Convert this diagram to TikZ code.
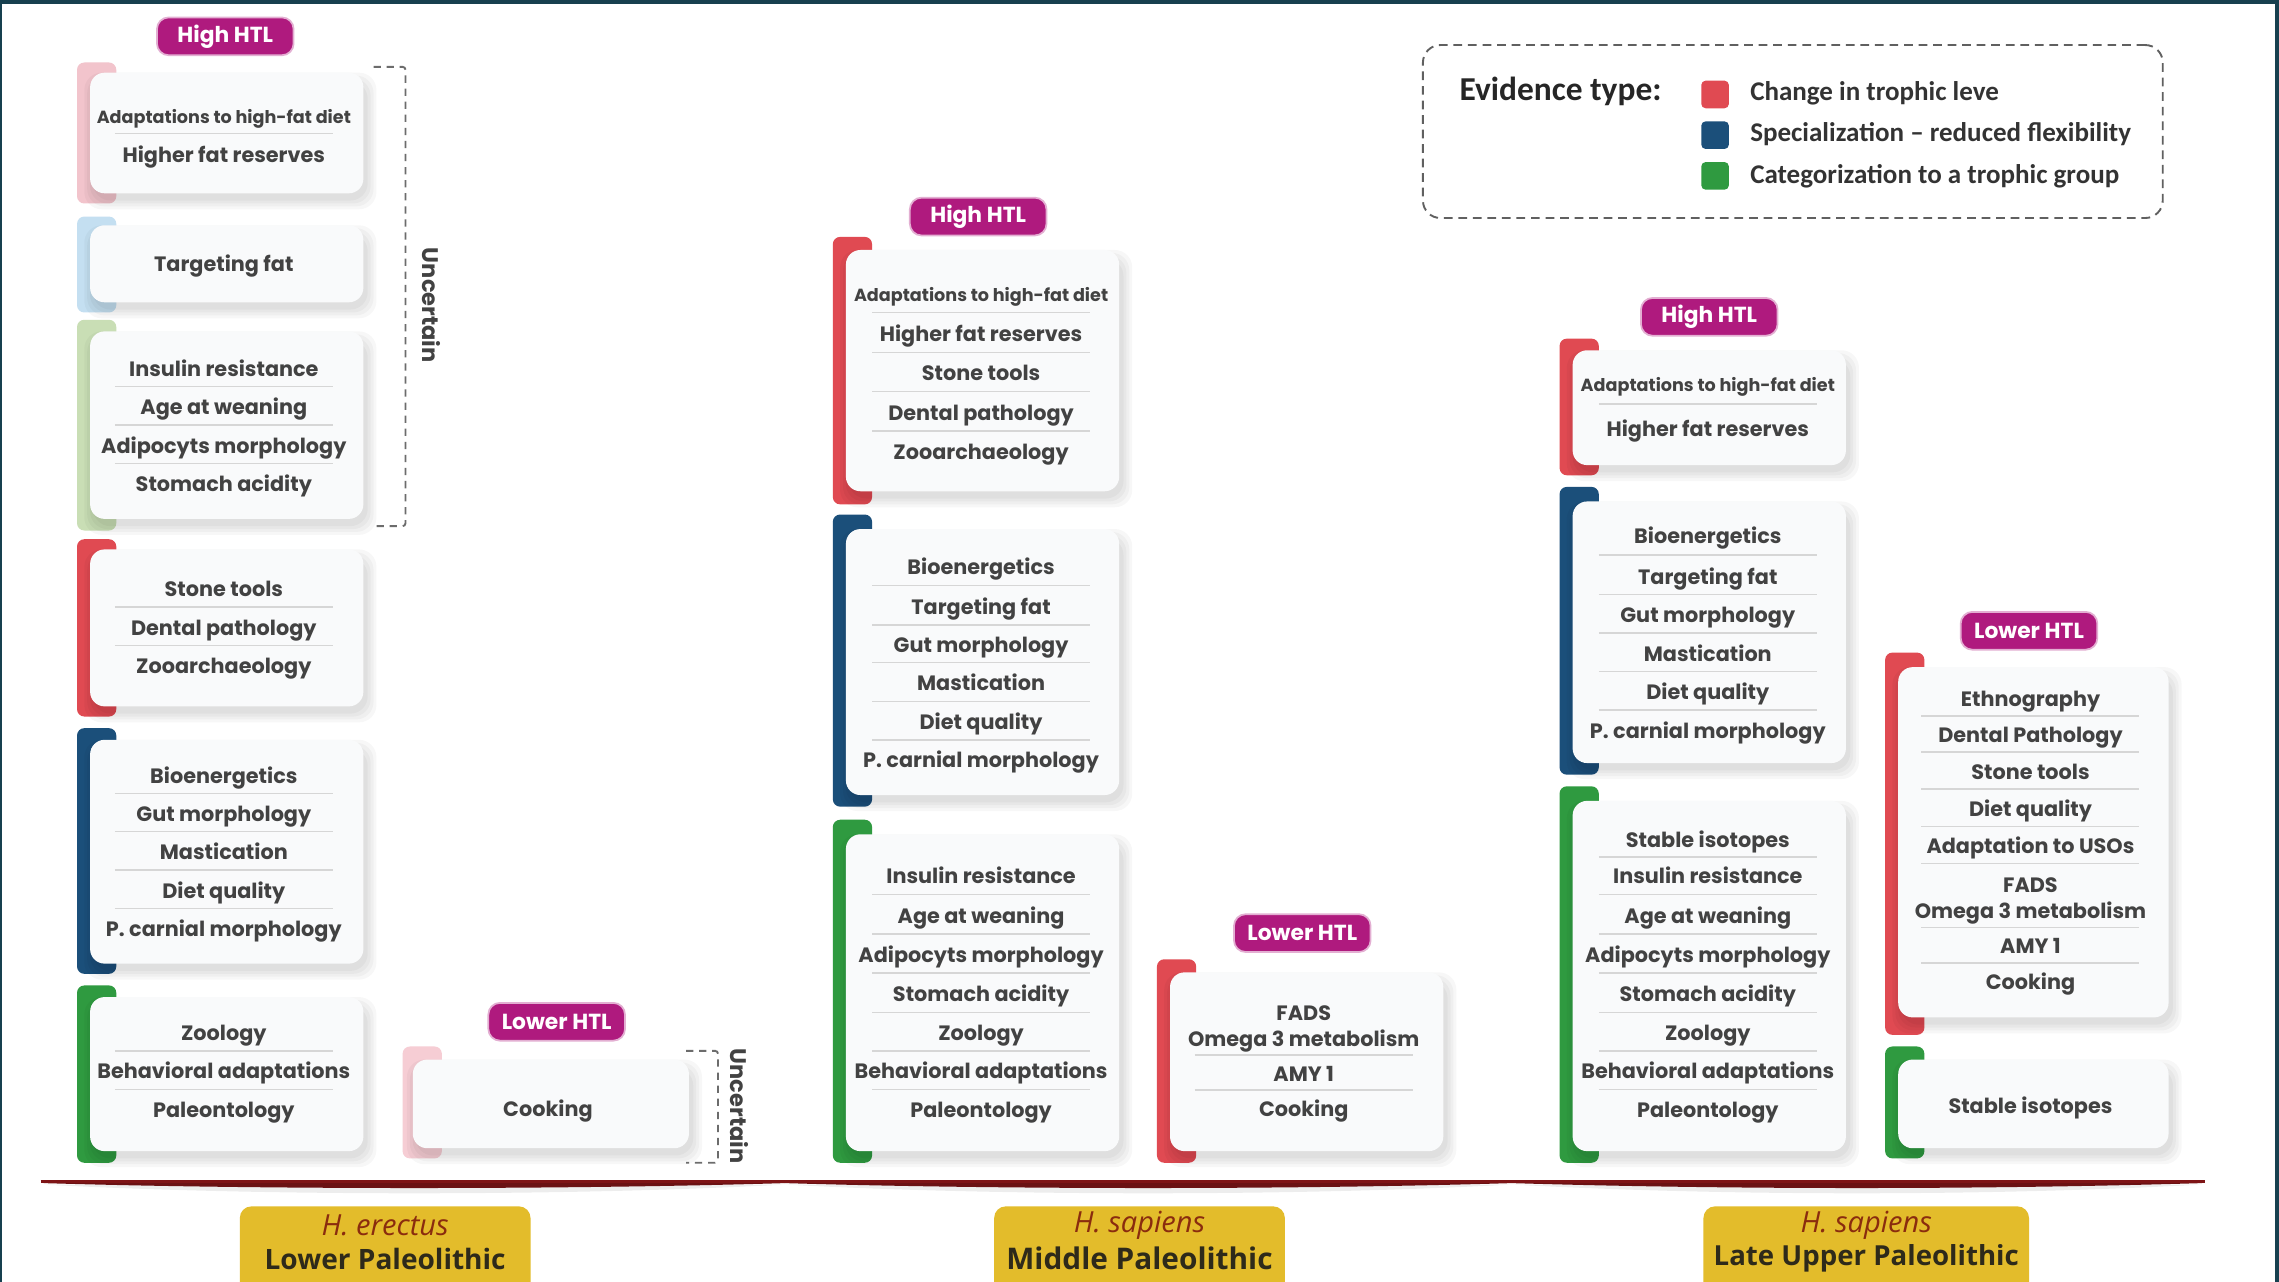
\documentclass[tikz,border=0pt]{standalone}
\usepackage{fontspec}
\setmainfont{Poppins}
\newfontfamily\legfont{Carlito}
\newfontfamily\labfont{Open Sans}
\usetikzlibrary{calc}
\definecolor{frame}{HTML}{17404F}
\definecolor{cred}{HTML}{E04A52}
\definecolor{cblue}{HTML}{1B4F7A}
\definecolor{cgreen}{HTML}{2F9A40}
\definecolor{lred}{HTML}{F2C4CC}
\definecolor{lredb}{HTML}{F6CDD4}
\definecolor{lblue}{HTML}{C4DFF1}
\definecolor{lgreen}{HTML}{C9DEB5}
\definecolor{badge}{HTML}{AF1A7E}
\definecolor{txt}{HTML}{424242}
\definecolor{sepc}{HTML}{D6D6D6}
\definecolor{gold}{HTML}{E3BC2B}
\definecolor{lineRed}{HTML}{7E1416}
\definecolor{boxbg}{HTML}{F9FAFB}
\definecolor{sapc}{HTML}{8A2C0E}
\definecolor{perc}{HTML}{2E2A1A}
\newcommand\itemfont{\fontsize{14.3}{16}\selectfont\bfseries}
\newcommand\smallitemfont{\fontsize{12.1}{14}\selectfont\bfseries}
\newcommand\EvBox[9]{%
  \fill[#2, rounded corners=5pt] (#3,#4) rectangle (#3+27,#5);
  \foreach \e in {0,2,4,6}{\fill[black,opacity=0.03,rounded corners=12pt] (#6+2-\e,#8+6-\e) rectangle (#7+3+\e,#9+5+\e);}
  \node[wbox, minimum width={(#7-#6)*1pt}, minimum height={(#9-#8)*1pt}] (#1) at ({(#6+#7)/2},{(#8+#9)/2}) {};
}
\newcommand\Items[3]{\foreach \t/\y [count=\i] in {#3} {\node[item] (#1-\i) at (#2,\y) {\t};}}
\newcommand\Seps[2]{\foreach \y in {#2} {\draw[sepline] (#1-75,\y) -- (#1+75,\y);}}
\tikzset{
  wbox/.style={fill=boxbg, rounded corners=10pt, inner sep=0pt, outer sep=0pt},
  item/.style={font=\itemfont, text=txt, inner sep=0pt, text height=0.72em, text depth=0.2em, anchor=center, yshift=-3.5pt},
  itemsm/.style={item, font=\smallitemfont},
  sepline/.style={draw=sepc, line width=1pt},
  badgest/.style={fill=badge, draw=badge!35, line width=1.2pt, rounded corners=8pt, minimum width=94pt, minimum height=26pt, inner sep=0pt, text=white, font=\fontsize{15}{15}\selectfont\bfseries},
  dashline/.style={draw=gray!85!black, line width=1.3pt, dash pattern=on 5pt off 4pt, rounded corners=2pt},
  unc/.style={rotate=-90, font=\fontsize{15.5}{15.5}\selectfont\bfseries, text=txt, inner sep=0pt},
  goldbox/.style={fill=gold, rounded corners=8pt, inner sep=0pt},
  sapst/.style={font=\labfont\itshape\fontsize{20}{20}\selectfont, text=sapc, inner sep=0pt},
  perst/.style={font=\labfont\bfseries\fontsize{20.5}{20.5}\selectfont, text=perc, inner sep=0pt},
  legsq/.style={rounded corners=3pt, minimum size=19pt, inner sep=0pt},
  legtxt/.style={anchor=west, font=\legfont\bfseries\fontsize{18.6}{18.6}\selectfont, text=black!80, inner sep=0pt}
}
\begin{document}
\begin{tikzpicture}[x=1pt,y=-1pt]
\useasboundingbox (0,0) rectangle (1568,882);
\clip (0,0) rectangle (1568,882);
\fill[frame] (0,0) rectangle (1568,882);
\fill[white] (1.5,2.5) rectangle (1565.5,884);

% ---------------- Legend
\node[draw=gray!75!black, dash pattern=on 6pt off 4pt, line width=1.3pt, rounded corners=12pt, minimum width=509pt, minimum height=119pt, inner sep=0pt] (leg) at (1233.5,90.5) {};
\node[anchor=west, font=\legfont\bfseries\fontsize{23}{23}\selectfont, text=black!85, inner sep=0pt] (legt) at (1004,63) {Evidence type:};
\node[legsq, fill=cred] (sq1) at (1180,65) {};
\node[legsq, fill=cblue] (sq2) at (1180,93) {};
\node[legsq, fill=cgreen] (sq3) at (1180,121) {};
\node[legtxt] (lt1) at (1204,64) {Change in trophic leve};
\node[legtxt] (lt2) at (1204,92) {Specialization – reduced flexibility};
\node[legtxt] (lt3) at (1204,121) {Categorization to a trophic group};

% ---------------- Column 1 : H. erectus
\node[badgest] (hb1) at (155,25) {High HTL};
\EvBox{c1a}{lred}{53}{43}{140}{62}{250}{50}{133}
\node[itemsm] (c1a-1) at (154,79) {Adaptations to high-fat diet};
\node[item] (c1a-2) at (154,106) {Higher fat reserves};
\Seps{154}{92}
\EvBox{c1b}{lblue}{53}{149}{215}{62}{250}{155}{208}
\Items{c1b}{154}{Targeting fat/181}
\EvBox{c1c}{lgreen}{53}{220}{365}{62}{250}{228}{357}
\Items{c1c}{154}{Insulin resistance/253,Age at weaning/279,Adipocyts morphology/306,Stomach acidity/332}
\Seps{154}{266,292.5,319}
\draw[dashline] (257,46) -- (279,46) -- (279,362) -- (257,362);
\node[unc] (u1) at (297,210) {Uncertain};
\EvBox{c1d}{cred}{53}{371}{493}{62}{250}{378}{486}
\Items{c1d}{154}{Stone tools/404,Dental pathology/431,Zooarchaeology/457}
\Seps{154}{417.5,444}
\EvBox{c1e}{cblue}{53}{501}{670}{62}{250}{509}{663}
\Items{c1e}{154}{Bioenergetics/533,Gut morphology/559,Mastication/585,Diet quality/612,P. carnial morphology/638}
\Seps{154}{546,572,598.5,625}
\EvBox{c1f}{cgreen}{53}{678}{800}{62}{250}{686}{792}
\Items{c1f}{154}{Zoology/710,Behavioral adaptations/736,Paleontology/763}
\Seps{154}{723,749.5}
\node[badgest] (lb1) at (383,703) {Lower HTL};
\EvBox{c1g}{lredb}{277}{720}{797}{284}{474}{729}{790}
\Items{c1g}{377}{Cooking/762}
\draw[dashline] (472,723) -- (494,723) -- (494,800) -- (472,800);
\node[unc] (u2) at (509,761) {Uncertain};

% ---------------- Column 2 : Middle Paleolithic
\node[badgest] (hb2) at (673,149) {High HTL};
\EvBox{c2a}{cred}{573}{163}{347}{582}{770}{172}{338}
\node[itemsm] (c2a-0) at (675,201) {Adaptations to high-fat diet};
\Items{c2a}{675}{Higher fat reserves/229,Stone tools/256,Dental pathology/283,Zooarchaeology/310}
\Seps{675}{215,242.5,269.5,296.5}
\EvBox{c2b}{cblue}{573}{354}{555}{582}{770}{364}{547}
\Items{c2b}{675}{Bioenergetics/389,Targeting fat/417,Gut morphology/443,Mastication/469,Diet quality/496,P. carnial morphology/522}
\Seps{675}{403,430,456,482.5,509}
\EvBox{c2c}{cgreen}{573}{564}{800}{582}{770}{574}{792}
\Items{c2c}{675}{Insulin resistance/602,Age at weaning/629,Adipocyts morphology/656,Stomach acidity/683,Zoology/710,Behavioral adaptations/736,Paleontology/763}
\Seps{675}{615.5,642.5,669.5,696.5,723,749.5}
\node[badgest] (lb2) at (896,642) {Lower HTL};
\EvBox{c2d}{cred}{796}{660}{800}{805}{993}{669}{792}
\Items{c2d}{897}{FADS/696,Omega 3 metabolism/714,AMY 1/738,Cooking/762}
\Seps{897}{726,750}

% ---------------- Column 3 : Late Upper Paleolithic
\node[badgest] (hb3) at (1176,218) {High HTL};
\EvBox{c3a}{cred}{1073}{233}{327}{1082}{1270}{241}{320}
\node[itemsm] (c3a-0) at (1175,263) {Adaptations to high-fat diet};
\Items{c3a}{1175}{Higher fat reserves/294}
\Seps{1175}{278}
\EvBox{c3b}{cblue}{1073}{335}{533}{1082}{1270}{345}{525}
\Items{c3b}{1175}{Bioenergetics/368,Targeting fat/396,Gut morphology/422,Mastication/449,Diet quality/475,P. carnial morphology/502}
\Seps{1175}{382,409,435.5,462,488.5}
\EvBox{c3c}{cgreen}{1073}{541}{800}{1082}{1270}{551}{792}
\Items{c3c}{1175}{Stable isotopes/577,Insulin resistance/602,Age at weaning/629,Adipocyts morphology/656,Stomach acidity/683,Zoology/710,Behavioral adaptations/736,Paleontology/763}
\Seps{1175}{589.5,615.5,642.5,669.5,696.5,723,749.5}
\node[badgest] (lb3) at (1396,434) {Lower HTL};
\EvBox{c3d}{cred}{1297}{449}{712}{1306}{1492}{459}{700}
\Items{c3d}{1397}{Ethnography/480,Dental Pathology/505,Stone tools/530,Diet quality/556,Adaptation to USOs/581,FADS/608,Omega 3 metabolism/626,AMY 1/650,Cooking/675}
\Seps{1397}{492.5,517.5,543,568.5,594,638,662.5}
\EvBox{c3e}{cgreen}{1297}{720}{797}{1306}{1492}{729}{790}
\Items{c3e}{1397}{Stable isotopes/760}

% ---------------- Timeline
\coordinate (tl0) at (28,813);
\coordinate (tl1) at (1517,813);
\foreach \a/\b in {30/540,540/1040,1040/1515}{
  \fill[black,opacity=0.07] (\a,815) .. controls (\a+150,823) and (\b-150,823) .. (\b,815) -- cycle;
  \fill[lineRed!85!black] (\a,814) .. controls (\a+150,818.5) and (\b-150,818.5) .. (\b,814) -- cycle;
}
\draw[lineRed, line width=2.4pt] (tl0) -- (tl1);

% ---------------- Period labels
\node[goldbox, minimum width=200pt, minimum height=62pt] (p1) at (265,861) {};
\node[sapst] (p1a) at (265,843) {H. erectus};
\node[perst, font=\labfont\bfseries\fontsize{19.3}{19.3}\selectfont] (p1b) at (265,866) {Lower Paleolithic};
\node[goldbox, minimum width=200pt, minimum height=62pt] (p2) at (784,861) {};
\node[sapst] (p2a) at (784,843) {H. sapiens};
\node[perst] (p2b) at (784,866) {Middle Paleolithic};
\node[goldbox, minimum width=224pt, minimum height=62pt] (p3) at (1284,861) {};
\node[sapst] (p3a) at (1284,843) {H. sapiens};
\node[perst, font=\labfont\bfseries\fontsize{19}{19}\selectfont] (p3b) at (1284,866) {Late Upper Paleolithic};
\end{tikzpicture}
\end{document}
